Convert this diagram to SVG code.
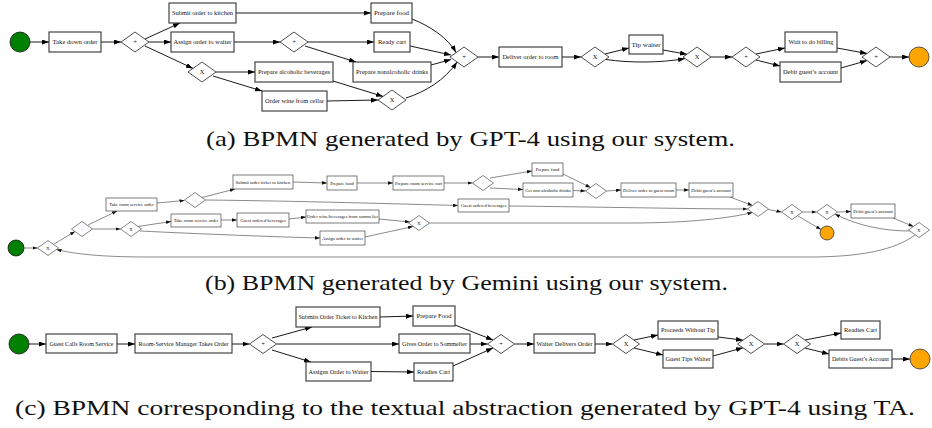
<svg xmlns="http://www.w3.org/2000/svg" width="932" height="428" viewBox="0 0 932 428">
<style>
.t{fill:#fff;stroke:#333;stroke-width:1.1}
.tb{fill:#fff;stroke:#444;stroke-width:0.7}
.gw{fill:#fff;stroke:#222;stroke-width:0.8}
.gwb{fill:#fff;stroke:#333;stroke-width:0.6}
.lbl{font-family:"Liberation Serif","Times New Roman",serif;font-size:6.5px;fill:#111;text-anchor:middle}
.lblb{font-family:"Liberation Serif","Times New Roman",serif;font-size:4.6px;fill:#111;text-anchor:middle}
.e{fill:none;stroke:#000;stroke-width:0.9;marker-end:url(#ah)}
.eb{fill:none;stroke:#3a3a3a;stroke-width:0.6;marker-end:url(#ahb)}
.start{fill:#008000;stroke:#111;stroke-width:0.8}
.end{fill:#ffa500;stroke:#333;stroke-width:0.8}
.cap{font-family:"Liberation Serif","Times New Roman",serif;font-size:21px;fill:#111}
</style>
<defs>
<marker id="ah" markerUnits="userSpaceOnUse" markerWidth="7" markerHeight="5" refX="7" refY="2.5" orient="auto"><path d="M0,0 L7,2.5 L0,5 z" fill="#000"/></marker>
<marker id="ahb" markerUnits="userSpaceOnUse" markerWidth="5" markerHeight="3.6" refX="5" refY="1.8" orient="auto"><path d="M0,0 L5,1.8 L0,3.6 z" fill="#111"/></marker>
</defs>
<rect width="932" height="428" fill="#fff"/>

<!-- ===== (a) ===== -->
<g id="a_connectors">
<path class="e" d="M30,42 L49,42"/>
<path class="e" d="M101,42 L121,42"/>
<path class="e" d="M145,39 L180,23"/>
<path class="e" d="M149,42 L171,42"/>
<path class="e" d="M145,46 L193,68.4"/>
<path class="e" d="M236,13 L371,13"/>
<path class="e" d="M234,42 L280,42"/>
<path class="e" d="M216,72 L255,72"/>
<path class="e" d="M213,76 L262,91"/>
<path class="e" d="M308,42 L374,42"/>
<path class="e" d="M305,46 L356,62"/>
<path class="e" d="M412,19 C430,26 448,38 456,52.5"/>
<path class="e" d="M410,46 L451,55"/>
<path class="e" d="M431,65 L451,59.5"/>
<path class="e" d="M333,81 L383,96.4"/>
<path class="e" d="M327,101 L378,100"/>
<path class="e" d="M406,98 C425,92 445,80 457,62"/>
<path class="e" d="M478,57 L499,57"/>
<path class="e" d="M562,57 L581,57"/>
<path class="e" d="M605,54 L629,48"/>
<path class="e" d="M606,59.5 C630,63 660,63 685,58.6"/>
<path class="e" d="M663,50 L687,54.3"/>
<path class="e" d="M711,57 L732,57"/>
<path class="e" d="M756,54 L785,48"/>
<path class="e" d="M756,60 L780,66"/>
<path class="e" d="M837,48 L867,53.5"/>
<path class="e" d="M841,68 L867,60.6"/>
<path class="e" d="M890,57 L909,57"/>
</g>
<g id="a_start"><circle class="start" cx="20" cy="42" r="10"/></g>
<g id="a_take"><rect class="t" x="49" y="32" width="52" height="20"/><text class="lbl" x="75" y="44.3" textLength="45" lengthAdjust="spacingAndGlyphs">Take down order</text></g>
<g id="a_gw1"><polygon class="gw" points="135,32 149,42 135,52 121,42"/><text class="lbl" x="135" y="44.3">+</text></g>
<g id="a_submit"><rect class="t" x="169" y="3" width="67" height="20"/><text class="lbl" x="202.5" y="15.3" textLength="61" lengthAdjust="spacingAndGlyphs">Submit order to kitchen</text></g>
<g id="a_assign"><rect class="t" x="171" y="32" width="63" height="20"/><text class="lbl" x="202.5" y="44.3" textLength="58" lengthAdjust="spacingAndGlyphs">Assign order to waiter</text></g>
<g id="a_gw3"><polygon class="gw" points="202,62 216,72 202,82 188,72"/><text class="lbl" x="202" y="74.3">X</text></g>
<g id="a_gw2"><polygon class="gw" points="294,32 308,42 294,52 280,42"/><text class="lbl" x="294" y="44.3">+</text></g>
<g id="a_alc"><rect class="t" x="255" y="62" width="78" height="20"/><text class="lbl" x="294" y="74.3" textLength="72" lengthAdjust="spacingAndGlyphs">Prepare alcoholic beverages</text></g>
<g id="a_wine"><rect class="t" x="262" y="91" width="65" height="20"/><text class="lbl" x="294.5" y="103.3" textLength="59" lengthAdjust="spacingAndGlyphs">Order wine from cellar</text></g>
<g id="a_food"><rect class="t" x="371" y="3" width="41" height="20"/><text class="lbl" x="391.5" y="15.3" textLength="35" lengthAdjust="spacingAndGlyphs">Prepare food</text></g>
<g id="a_cart"><rect class="t" x="374" y="32" width="36" height="20"/><text class="lbl" x="392" y="44.3" textLength="28" lengthAdjust="spacingAndGlyphs">Ready cart</text></g>
<g id="a_nonalc"><rect class="t" x="353" y="62" width="78" height="20"/><text class="lbl" x="392" y="74.3" textLength="72" lengthAdjust="spacingAndGlyphs">Prepare nonalcoholic drinks</text></g>
<g id="a_gw4"><polygon class="gw" points="392,90 406,100 392,110 378,100"/><text class="lbl" x="392" y="102.3">X</text></g>
<g id="a_gw5"><polygon class="gw" points="464,47 478,57 464,67 450,57"/><text class="lbl" x="464" y="59.3">+</text></g>
<g id="a_deliver"><rect class="t" x="499" y="47" width="63" height="20"/><text class="lbl" x="530.5" y="59.3" textLength="56" lengthAdjust="spacingAndGlyphs">Deliver order to room</text></g>
<g id="a_gw6"><polygon class="gw" points="595,47 609,57 595,67 581,57"/><text class="lbl" x="595" y="59.3">X</text></g>
<g id="a_tip"><rect class="t" x="629" y="35" width="34" height="19"/><text class="lbl" x="646" y="46.8" textLength="29" lengthAdjust="spacingAndGlyphs">Tip waiter</text></g>
<g id="a_gw7"><polygon class="gw" points="697,47 711,57 697,67 683,57"/><text class="lbl" x="697" y="59.3">X</text></g>
<g id="a_gw8"><polygon class="gw" points="746,47 760,57 746,67 732,57"/><text class="lbl" x="746" y="59.3">+</text></g>
<g id="a_wait"><rect class="t" x="785" y="32" width="52" height="20"/><text class="lbl" x="811" y="44.3" textLength="45" lengthAdjust="spacingAndGlyphs">Wait to do billing</text></g>
<g id="a_debit"><rect class="t" x="780" y="62" width="61" height="20"/><text class="lbl" x="810.5" y="74.3" textLength="55" lengthAdjust="spacingAndGlyphs">Debit guest’s account</text></g>
<g id="a_gw9"><polygon class="gw" points="876,47 890,57 876,67 862,57"/><text class="lbl" x="876" y="59.3">+</text></g>
<g id="a_end"><circle class="end" cx="919" cy="57" r="10"/></g>
<text class="cap" x="206" y="146" textLength="529" lengthAdjust="spacingAndGlyphs">(a) BPMN generated by GPT-4 using our system.</text>

<!-- ===== (b) ===== -->
<g id="b_connectors">
<path class="eb" d="M24,248 L37.5,248"/>
<path class="eb" d="M54,244 L75,231.5"/>
<path class="eb" d="M88,225 L117,211"/>
<path class="eb" d="M92.5,229 L120.5,229"/>
<path class="eb" d="M157,203 L184.5,200.5"/>
<path class="eb" d="M202,197.5 L235,189"/>
<path class="eb" d="M205.5,200 C300,201 400,204 458,205.5"/>
<path class="eb" d="M293,182 L327,183"/>
<path class="eb" d="M357,183 L393,183"/>
<path class="eb" d="M444,183 L472.5,183"/>
<path class="eb" d="M490,178 L532,171"/>
<path class="eb" d="M490,188 L523,189.5"/>
<path class="eb" d="M563,174 L590.5,187.5"/>
<path class="eb" d="M573,190.5 L585.5,191"/>
<path class="eb" d="M606.5,191 L621,190"/>
<path class="eb" d="M676,190 L689,190"/>
<path class="eb" d="M730,197 L752.5,205.5"/>
<path class="eb" d="M509,206 C600,207 700,209 747.5,209"/>
<path class="eb" d="M138,226.5 L171,221.5"/>
<path class="eb" d="M221,220 L237,220"/>
<path class="eb" d="M289,219 L306,217"/>
<path class="eb" d="M379,219 L410,222"/>
<path class="eb" d="M140,231 C200,234 280,237 320,238"/>
<path class="eb" d="M365,237 L413,226.5"/>
<path class="eb" d="M429.5,223 L630,223 C690,223 730,218 752.5,212.5"/>
<path class="eb" d="M768.5,209.5 L781.5,212"/>
<path class="eb" d="M802.5,212 L816.5,212"/>
<path class="eb" d="M798,216 L821,229.5"/>
<path class="eb" d="M837.5,212 L851,211.5"/>
<path class="eb" d="M893,218 L913.5,226.5"/>
<path class="eb" d="M909.5,231 C885,231 858,226 835,214"/>
<path class="eb" d="M915,235 C895,250 860,257 810,257 L150,257 C100,257 75,254 56.5,249.5"/>
</g>
<g id="b_start"><circle class="start" cx="16" cy="248" r="8"/></g>
<g id="b_x1"><polygon class="gwb" points="48,240.5 58.5,248 48,255.5 37.5,248"/><text class="lblb" x="48" y="249.6">X</text></g>
<g id="b_p1"><polygon class="gwb" points="82,221.5 92.5,229 82,236.5 71.5,229"/><text class="lblb" x="82" y="230.6">+</text></g>
<g id="b_trso1"><rect class="tb" x="106" y="198" width="51" height="13"/><text class="lblb" x="131.5" y="206.1">Take room service order</text></g>
<g id="b_x2"><polygon class="gwb" points="131,221.5 141.5,229 131,236.5 120.5,229"/><text class="lblb" x="131" y="230.6">X</text></g>
<g id="b_p2"><polygon class="gwb" points="195,192.5 205.5,200 195,207.5 184.5,200"/><text class="lblb" x="195" y="201.6">+</text></g>
<g id="b_submit"><rect class="tb" x="233" y="175" width="60" height="14"/><text class="lblb" x="263" y="183.6">Submit order ticket to kitchen</text></g>
<g id="b_food"><rect class="tb" x="327" y="176" width="30" height="14"/><text class="lblb" x="342" y="184.6">Prepare food</text></g>
<g id="b_cart"><rect class="tb" x="393" y="176" width="51" height="14"/><text class="lblb" x="418.5" y="184.6">Prepare room service cart</text></g>
<g id="b_p3"><polygon class="gwb" points="483,175.5 493.5,183 483,190.5 472.5,183"/><text class="lblb" x="483" y="184.6">+</text></g>
<g id="b_food2"><rect class="tb" x="532" y="163" width="31" height="13"/><text class="lblb" x="547.5" y="171.1">Prepare food</text></g>
<g id="b_nonalc"><rect class="tb" x="523" y="183" width="50" height="14"/><text class="lblb" x="548" y="191.6">Get non-alcoholic drinks</text></g>
<g id="b_p4"><polygon class="gwb" points="596,183.5 606.5,191 596,198.5 585.5,191"/><text class="lblb" x="596" y="192.6">+</text></g>
<g id="b_deliver"><rect class="tb" x="621" y="183" width="55" height="14"/><text class="lblb" x="648.5" y="191.6">Deliver order to guest room</text></g>
<g id="b_debit"><rect class="tb" x="689" y="183" width="44" height="14"/><text class="lblb" x="711" y="191.6">Debit guest’s account</text></g>
<g id="b_gob2"><rect class="tb" x="458" y="199" width="51" height="13"/><text class="lblb" x="483.5" y="207.1">Guest ordered beverages</text></g>
<g id="b_trso2"><rect class="tb" x="171" y="214" width="50" height="13"/><text class="lblb" x="196" y="222.1">Take room service order</text></g>
<g id="b_gob"><rect class="tb" x="237" y="213" width="52" height="14"/><text class="lblb" x="263" y="221.6">Guest ordered beverages</text></g>
<g id="b_wine"><rect class="tb" x="306" y="210" width="73" height="13"/><text class="lblb" x="342.5" y="218.1">Order wine/beverages from sommelier</text></g>
<g id="b_assign"><rect class="tb" x="320" y="231" width="45" height="14"/><text class="lblb" x="342.5" y="239.6">Assign order to waiter</text></g>
<g id="b_x3"><polygon class="gwb" points="419,215.5 429.5,223 419,230.5 408.5,223"/><text class="lblb" x="419" y="224.6">X</text></g>
<g id="b_p5"><polygon class="gwb" points="758,201.5 768.5,209 758,216.5 747.5,209"/><text class="lblb" x="758" y="210.6">+</text></g>
<g id="b_x4"><polygon class="gwb" points="792,204.5 802.5,212 792,219.5 781.5,212"/><text class="lblb" x="792" y="213.6">X</text></g>
<g id="b_x5"><polygon class="gwb" points="827,204.5 837.5,212 827,219.5 816.5,212"/><text class="lblb" x="827" y="213.6">X</text></g>
<g id="b_debit2"><rect class="tb" x="851" y="204" width="44" height="14"/><text class="lblb" x="873" y="212.6">Debit guest’s account</text></g>
<g id="b_x6"><polygon class="gwb" points="919,222.5 929.5,230 919,237.5 908.5,230"/><text class="lblb" x="919" y="231.6">X</text></g>
<g id="b_end"><circle class="end" cx="827" cy="233" r="7"/></g>
<text class="cap" x="205" y="290" textLength="523" lengthAdjust="spacingAndGlyphs">(b) BPMN generated by Gemini using our system.</text>

<!-- ===== (c) ===== -->
<g id="c_connectors">
<path class="e" d="M29,344 L46,344"/>
<path class="e" d="M117,344 L135,344"/>
<path class="e" d="M232,344 L249.5,344"/>
<path class="e" d="M272,338 L312,327"/>
<path class="e" d="M276.5,344 L399,344"/>
<path class="e" d="M272,350 L311,362"/>
<path class="e" d="M380,317 L413,316"/>
<path class="e" d="M371,371.5 L414,372"/>
<path class="e" d="M455,325 L493,340"/>
<path class="e" d="M470,344 L487.5,344"/>
<path class="e" d="M453,366 L493,348"/>
<path class="e" d="M514.5,344 L534,344"/>
<path class="e" d="M595,344 L612.5,344"/>
<path class="e" d="M634,340 L658,335"/>
<path class="e" d="M634,348 L663,355"/>
<path class="e" d="M718,337 L743,340.2"/>
<path class="e" d="M713,356 L743,347.8"/>
<path class="e" d="M764.5,344 L783.5,344"/>
<path class="e" d="M805,340 L841,333"/>
<path class="e" d="M805,348 L829,354"/>
<path class="e" d="M892,359 L910,359"/>
</g>
<g id="c_start"><circle class="start" cx="19" cy="344" r="10"/></g>
<g id="c_calls"><rect class="t" x="46" y="334" width="71" height="19"/><text class="lbl" x="81.5" y="345.8" textLength="64" lengthAdjust="spacingAndGlyphs">Guest Calls Room Service</text></g>
<g id="c_rsm"><rect class="t" x="135" y="334" width="97" height="19"/><text class="lbl" x="183.5" y="345.8" textLength="90" lengthAdjust="spacingAndGlyphs">Room-Service Manager Takes Order</text></g>
<g id="c_p1"><polygon class="gw" points="263,334.5 276.5,344 263,353.5 249.5,344"/><text class="lbl" x="263" y="346.3">+</text></g>
<g id="c_submits"><rect class="t" x="296" y="307" width="84" height="20"/><text class="lbl" x="338" y="319.3" textLength="79" lengthAdjust="spacingAndGlyphs">Submits Order Ticket to Kitchen</text></g>
<g id="c_gives"><rect class="t" x="399" y="334" width="71" height="19"/><text class="lbl" x="434.5" y="345.8" textLength="65" lengthAdjust="spacingAndGlyphs">Gives Order to Sommelier</text></g>
<g id="c_assigns"><rect class="t" x="306" y="362" width="65" height="19"/><text class="lbl" x="338.5" y="373.8" textLength="60" lengthAdjust="spacingAndGlyphs">Assigns Order to Waiter</text></g>
<g id="c_food"><rect class="t" x="413" y="306" width="42" height="20"/><text class="lbl" x="434" y="318.3" textLength="35" lengthAdjust="spacingAndGlyphs">Prepare Food</text></g>
<g id="c_cart"><rect class="t" x="414" y="363" width="39" height="18"/><text class="lbl" x="433.5" y="374.3" textLength="33" lengthAdjust="spacingAndGlyphs">Readies Cart</text></g>
<g id="c_pm"><polygon class="gw" points="501,334.5 514.5,344 501,353.5 487.5,344"/><text class="lbl" x="501" y="346.3">+</text></g>
<g id="c_wdo"><rect class="t" x="534" y="334" width="61" height="19"/><text class="lbl" x="564.5" y="345.8" textLength="56" lengthAdjust="spacingAndGlyphs">Waiter Delivers Order</text></g>
<g id="c_xa"><polygon class="gw" points="626,334.5 639.5,344 626,353.5 612.5,344"/><text class="lbl" x="626" y="346.3">X</text></g>
<g id="c_notip"><rect class="t" x="658" y="321" width="60" height="18"/><text class="lbl" x="688" y="332.3" textLength="54" lengthAdjust="spacingAndGlyphs">Proceeds Without Tip</text></g>
<g id="c_tips"><rect class="t" x="663" y="350" width="50" height="18"/><text class="lbl" x="688" y="361.3" textLength="45" lengthAdjust="spacingAndGlyphs">Guest Tips Waiter</text></g>
<g id="c_xm"><polygon class="gw" points="751,334.5 764.5,344 751,353.5 737.5,344"/><text class="lbl" x="751" y="346.3">X</text></g>
<g id="c_xb"><polygon class="gw" points="797,334.5 810.5,344 797,353.5 783.5,344"/><text class="lbl" x="797" y="346.3">X</text></g>
<g id="c_cart2"><rect class="t" x="841" y="321" width="39" height="18"/><text class="lbl" x="860.5" y="332.3" textLength="33" lengthAdjust="spacingAndGlyphs">Readies Cart</text></g>
<g id="c_debits"><rect class="t" x="829" y="350" width="63" height="18"/><text class="lbl" x="860.5" y="361.3" textLength="57" lengthAdjust="spacingAndGlyphs">Debits Guest’s Account</text></g>
<g id="c_end"><circle class="end" cx="920" cy="359" r="10"/></g>
<text class="cap" x="15" y="415" textLength="900" lengthAdjust="spacingAndGlyphs">(c) BPMN corresponding to the textual abstraction generated by GPT-4 using TA.</text>
</svg>
